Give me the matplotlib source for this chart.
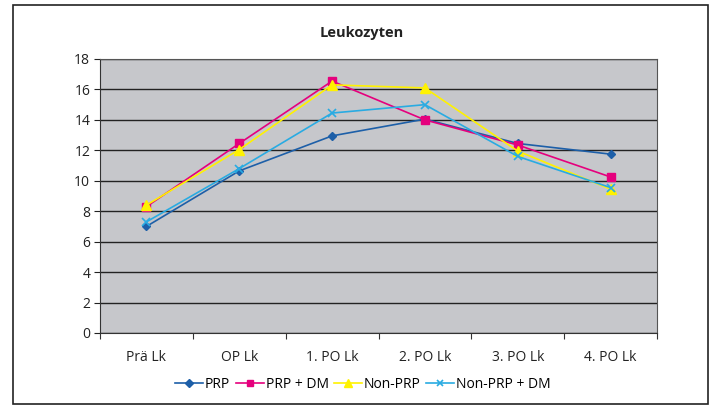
import matplotlib.pyplot as plt
import numpy as np
from matplotlib.patches import Rectangle

plt.rcParams['font.family'] = ['Open Sans', 'DejaVu Sans']

# Daten
categories = ['Prä Lk', 'OP Lk', '1. PO Lk', '2. PO Lk', '3. PO Lk', '4. PO Lk']
prp = [7.0, 10.65, 12.95, 14.05, 12.45, 11.75]
prp_dm = [8.3, 12.45, 16.55, 14.0, 12.35, 10.25]
non_prp = [8.4, 12.05, 16.3, 16.1, 11.95, 9.45]
non_prp_dm = [7.3, 10.8, 14.45, 15.0, 11.6, 9.55]
y_ticks = [0, 2, 4, 6, 8, 10, 12, 14, 16, 18]

fig = plt.figure(figsize=(7.18, 4.05), dpi=100)
fig.patch.set_facecolor('white')

# Rahmen um das Diagramm
fig.patches.append(Rectangle((13 / 718, 1 - 404 / 405), 695 / 718, 399 / 405,
                             transform=fig.transFigure, fill=False,
                             edgecolor='#222222', linewidth=1.2))

ax = fig.add_axes([100 / 718, 1 - 333 / 405, 557 / 718, 274 / 405])
ax.set_facecolor('#c6c7cb')

x = np.arange(len(categories)) + 0.5
ax.plot(x, prp, color='#1d5fa8', marker='D', markersize=4.5, linewidth=1.2, label='PRP')
ax.plot(x, prp_dm, color='#e5007d', marker='s', markersize=6, linewidth=1.2, label='PRP + DM')
ax.plot(x, non_prp, color='#fff200', marker='^', markersize=6.5, linewidth=1.2, label='Non-PRP')
ax.plot(x, non_prp_dm, color='#29abe2', marker='x', markersize=6, markeredgewidth=1.2,
        linewidth=1.2, label='Non-PRP + DM')

ax.set_xlim(0, len(categories))
ax.set_ylim(0, 18)
ax.set_yticks(y_ticks)
ax.set_xticks(np.arange(len(categories) + 1))
ax.set_xticklabels([])
ax.set_xticks(x, minor=True)
ax.set_xticklabels(categories, minor=True)
ax.tick_params(axis='x', which='minor', length=0, pad=12, labelsize=10, colors='#222222')
ax.tick_params(axis='x', which='major', length=4, color='#333333')
ax.tick_params(axis='y', length=4, labelsize=10, colors='#222222', pad=3)

ax.grid(axis='y', color='#222222', linewidth=1.0)
ax.set_axisbelow(True)
for side in ['top', 'right']:
    ax.spines[side].set_color('#555555')
for side in ['left', 'bottom']:
    ax.spines[side].set_color('#333333')

fig.text(362 / 718, 1 - 33 / 405, 'Leukozyten', ha='center', va='center',
         fontsize=10.5, fontweight='bold', color='#222222')

fig.legend(loc='center', bbox_to_anchor=(363 / 718, 1 - 384 / 405), ncol=4,
           frameon=False, fontsize=10, handlelength=2.0, handletextpad=0.15,
           columnspacing=0.4, markerscale=0.8)

plt.savefig('out.png', dpi=100, facecolor='white')
